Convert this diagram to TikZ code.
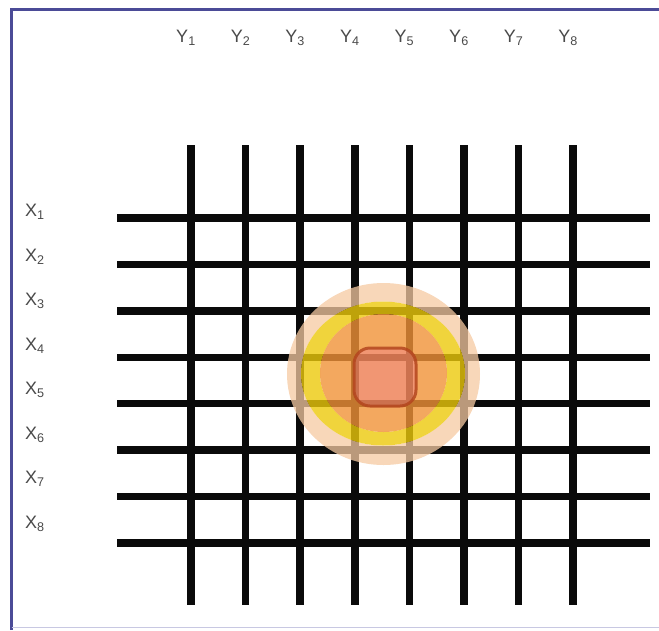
\documentclass[tikz,border=0pt]{standalone}
\usepackage{fontspec}
\setmainfont{Liberation Sans}
\usetikzlibrary{positioning}
\definecolor{framecolor}{HTML}{4B4B97}
\definecolor{framelight}{HTML}{C8C8E2}
\definecolor{labelgray}{HTML}{4A4A4A}
\definecolor{wirecolor}{HTML}{0A0A0A}
\definecolor{spotouter}{HTML}{F5C9A1}
\definecolor{spotyellow}{HTML}{ECC90B}
\definecolor{spotorange}{HTML}{F09237}
\definecolor{spotcore}{HTML}{EE845B}
\definecolor{spotcoreborder}{HTML}{B4461E}

\begin{document}
\begin{tikzpicture}[
    x=1pt, y=-1pt,
    every node/.style={font=\fontsize{18}{20}\selectfont, text=labelgray, inner sep=0pt},
    wire/.style={draw=wirecolor, line width=7.5pt},
    spotlayer/.style={even odd rule, draw=none},
]
\useasboundingbox (0,0) rectangle (659,630);

% ===== Frame =====
\draw[framecolor, line width=3pt] (11.5,630) -- (11.5,9.5) -- (659,9.5);
\draw[framelight, line width=1.5pt] (11.5,627.5) -- (659,627.5);

% ===== Column labels =====
\node (y1) at (186,38) {Y\textsubscript{1}};
\node (y2) at (240.6,38) {Y\textsubscript{2}};
\node (y3) at (295.2,38) {Y\textsubscript{3}};
\node (y4) at (349.8,38) {Y\textsubscript{4}};
\node (y5) at (404.4,38) {Y\textsubscript{5}};
\node (y6) at (459,38) {Y\textsubscript{6}};
\node (y7) at (513.6,38) {Y\textsubscript{7}};
\node (y8) at (568.2,38) {Y\textsubscript{8}};

% ===== Row labels =====
\node (x1) at (35,212) {X\textsubscript{1}};
\node (x2) at (35,256.5) {X\textsubscript{2}};
\node (x3) at (35,301) {X\textsubscript{3}};
\node (x4) at (35,345.5) {X\textsubscript{4}};
\node (x5) at (35,390) {X\textsubscript{5}};
\node (x6) at (35,434.5) {X\textsubscript{6}};
\node (x7) at (35,479) {X\textsubscript{7}};
\node (x8) at (35,523.5) {X\textsubscript{8}};

% ===== Vertical wires =====
\draw[wire] (191,145) -- (191,605);
\draw[wire] (245.6,145) -- (245.6,605);
\draw[wire] (300.2,145) -- (300.2,605);
\draw[wire] (354.8,145) -- (354.8,605);
\draw[wire] (409.4,145) -- (409.4,605);
\draw[wire] (464,145) -- (464,605);
\draw[wire] (518.6,145) -- (518.6,605);
\draw[wire] (573.2,145) -- (573.2,605);

% ===== Horizontal wires =====
\draw[wire] (117,218) -- (650,218);
\draw[wire] (117,264.4) -- (650,264.4);
\draw[wire] (117,310.9) -- (650,310.9);
\draw[wire] (117,357.3) -- (650,357.3);
\draw[wire] (117,403.7) -- (650,403.7);
\draw[wire] (117,450.1) -- (650,450.1);
\draw[wire] (117,496.6) -- (650,496.6);
\draw[wire] (117,543) -- (650,543);

% ===== Spot (rings, see-through) =====
\fill[spotlayer, spotouter, fill opacity=0.75]
    (383.5,374) ellipse [x radius=96.5, y radius=91]
    (383,373.5) ellipse [x radius=82, y radius=72];
\fill[spotlayer, spotyellow, fill opacity=0.8]
    (383,373.5) ellipse [x radius=82, y radius=72]
    (383.5,373) ellipse [x radius=63.5, y radius=59];
\fill[spotlayer, spotorange, fill opacity=0.8]
    (383.5,373) ellipse [x radius=63.5, y radius=59]
    [rounded corners=16pt] (354,348) rectangle (416,406);
\filldraw[fill=spotcore, draw=spotcoreborder, line width=3pt, fill opacity=0.85, draw opacity=0.85, rounded corners=16pt]
    (354,348) rectangle (416,406);

\end{tikzpicture}
\end{document}
